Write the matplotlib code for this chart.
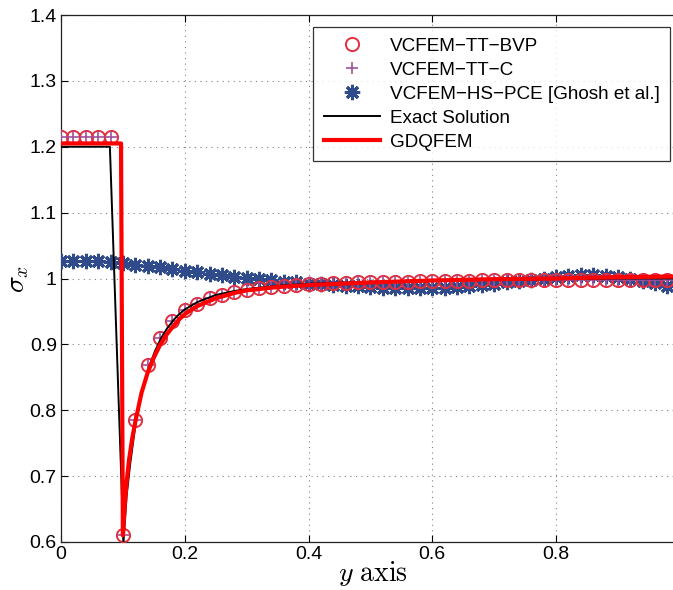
import matplotlib
matplotlib.use("Agg")
import matplotlib.pyplot as plt
from matplotlib.ticker import FuncFormatter

plt.rcParams['font.family'] = ['Liberation Sans', 'DejaVu Sans']
plt.rcParams['mathtext.fontset'] = 'cm'

# ---- data ----
x_pts = [round(0.02 * i, 2) for i in range(50)]

tt_bvp = [1.215, 1.215, 1.215, 1.215, 1.215, 0.61, 0.785, 0.868, 0.91, 0.935,
          0.952, 0.962, 0.970, 0.975, 0.979, 0.982, 0.985, 0.987, 0.988, 0.990,
          0.991, 0.992, 0.993, 0.993, 0.994, 0.994, 0.995, 0.995, 0.995, 0.996,
          0.996, 0.996, 0.996, 0.996, 0.997, 0.997, 0.997, 0.997, 0.997, 0.997,
          0.997, 0.997, 0.997, 0.997, 0.997, 0.997, 0.997, 0.997, 0.997, 0.997]
tt_c = list(tt_bvp)

hs_pce = [1.027, 1.027, 1.027, 1.026, 1.025, 1.023, 1.021, 1.019, 1.017, 1.015,
          1.012, 1.010, 1.007, 1.005, 1.003, 1.001, 0.999, 0.997, 0.995, 0.994,
          0.992, 0.991, 0.990, 0.989, 0.988, 0.987, 0.986, 0.985, 0.985, 0.985,
          0.985, 0.986, 0.987, 0.988, 0.990, 0.992, 0.994, 0.996, 0.998, 1.000,
          1.002, 1.004, 1.005, 1.005, 1.004, 1.002, 0.999, 0.996, 0.993, 0.989]

exact_x = [0, 0.079, 0.101, 0.106, 0.112, 0.122, 0.132, 0.142, 0.152, 0.162, 0.172,
           0.182, 0.19, 0.2, 0.22, 0.25, 0.28, 0.3, 0.35, 0.4, 0.5, 0.6, 0.7, 0.8, 0.9, 0.99]
exact_y = [1.2, 1.2, 0.6, 0.67, 0.72, 0.79, 0.833, 0.865, 0.89, 0.91, 0.925,
           0.937, 0.945, 0.953, 0.964, 0.975, 0.981, 0.984, 0.989, 0.992, 0.995, 0.997,
           0.998, 0.999, 1.0, 1.0]

gdq_x = [0, 0.097, 0.1, 0.103, 0.106, 0.11, 0.115, 0.12, 0.13, 0.14, 0.15, 0.16, 0.17,
         0.18, 0.19, 0.2, 0.22, 0.25, 0.28, 0.3, 0.35, 0.4, 0.5, 0.6, 0.7, 0.8, 0.9, 0.99]
gdq_y = [1.205, 1.205, 0.61, 0.655, 0.69, 0.725, 0.757, 0.782, 0.826, 0.857, 0.88, 0.899,
         0.914, 0.926, 0.937, 0.946, 0.958, 0.97, 0.978, 0.982, 0.987, 0.99, 0.994,
         0.997, 0.999, 1.0, 1.002, 1.003]

# ---- plot ----
fig = plt.figure(figsize=(6.73, 5.90), dpi=100)
ax = fig.add_axes([61/673, 1 - 542/590, 1 - 61/673, (542 - 15)/590])

ax.plot(x_pts, tt_bvp, linestyle='none', marker='o', markersize=9.5,
        markerfacecolor='none', markeredgecolor='#e0303f', markeredgewidth=1.4,
        label='VCFEM\u2212TT\u2212BVP', zorder=4)
ax.plot(x_pts, tt_c, linestyle='none', marker='+', markersize=9,
        markeredgecolor='#a0509c', markeredgewidth=1.2,
        label='VCFEM\u2212TT\u2212C', zorder=4)
ax.plot(x_pts, hs_pce, linestyle='none', marker=(8, 2, 0), markersize=11,
        markeredgecolor='#2f4b8c', markeredgewidth=2.2,
        label='VCFEM\u2212HS\u2212PCE [Ghosh et al.]', zorder=3)
ax.plot(exact_x, exact_y, color='black', linewidth=1.4, label='Exact Solution', zorder=5)
ax.plot(gdq_x, gdq_y, color='#ff0000', linewidth=3.0, label='GDQFEM', zorder=6)

ax.set_xlim(0, 0.989)
ax.set_ylim(0.6, 1.4)
ax.set_xticks([0, 0.2, 0.4, 0.6, 0.8])
ax.set_yticks([0.6, 0.7, 0.8, 0.9, 1.0, 1.1, 1.2, 1.3, 1.4])
fmt = FuncFormatter(lambda v, p: '%g' % round(v, 3))
ax.xaxis.set_major_formatter(fmt)
ax.yaxis.set_major_formatter(fmt)
ax.tick_params(direction='in', labelsize=14, length=5, width=0.8, top=True, right=False, pad=3)
ax.grid(True, linestyle=(0, (1, 4)), color='#808080', linewidth=0.8)
ax.spines['right'].set_visible(False)
for s in ['left', 'bottom', 'top']:
    ax.spines[s].set_linewidth(0.9)
    ax.spines[s].set_color('#222222')

ax.set_xlabel(r'$y\ \mathrm{axis}$', fontsize=20)
ax.set_ylabel(r'$\sigma_x$', fontsize=20)
ax.xaxis.set_label_coords((373 - 61) / 612, -(574 - 542) / 527)
ax.yaxis.set_label_coords(-(61 - 18) / 612, 0.5)
ax.xaxis.label.set_va('center')
ax.yaxis.label.set_va('center')

leg = ax.legend(loc='upper right', bbox_to_anchor=((670 - 61)/612, 1 - 12/527),
                bbox_transform=ax.transAxes, fontsize=13.6, frameon=True, fancybox=False,
                edgecolor='black', handlelength=3.0, borderpad=0.55, labelspacing=0.36,
                handletextpad=0.5, borderaxespad=0)
leg.get_frame().set_linewidth(0.9)

fig.savefig('out.png', dpi=100, facecolor='white')
